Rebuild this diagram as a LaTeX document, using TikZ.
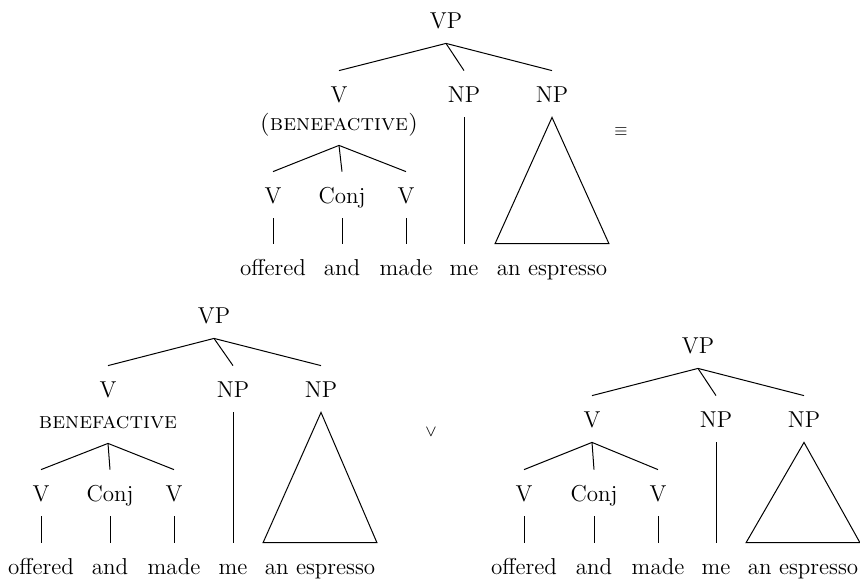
\documentclass[tikz,border=0pt]{standalone}
\usepackage{tikz}

\begin{document}
\begin{tikzpicture}[
    x=0.5pt, y=-0.5pt,
    every node/.style={font=\fontsize{11.5}{14}\selectfont},
    lbl/.style={inner sep=0pt, text height=8pt, text depth=0pt, minimum height=23pt},
    tri/.style={lbl, minimum width=56.5pt},
    sym/.style={inner sep=0pt, font=\footnotesize},
    branch/.style={line width=0.5pt},
  ]
  \useasboundingbox (0,0) rectangle (860,580);

  % top tree
  \node[lbl] (aVP) at (446,20) {VP};
  \node[lbl] (aV) at (339,94) {V};
  \node[lbl] (aBen) at (339,122) {\textsc{(benefactive)}};
  \node[lbl] (aNPa) at (464,94) {NP};
  \node[lbl] (aNPb) at (552,94) {NP};
  \node[lbl] (aVl) at (273,195) {V};
  \node[lbl] (aConj) at (342,195) {Conj};
  \node[lbl] (aVr) at (406,195) {V};
  \node[lbl] (aoff) at (273,267) {offered};
  \node[lbl] (aand) at (342,267) {and};
  \node[lbl] (amade) at (406,267) {made};
  \node[lbl] (ame) at (464,267) {me};
  \node[tri] (aesp) at (552,267) {an espresso};

  \draw[branch] (aVP.south) -- (aV.north);
  \draw[branch] (aVP.south) -- (aNPa.north);
  \draw[branch] (aVP.south) -- (aNPb.north);
  \draw[branch] (aBen.south) -- (aVl.north);
  \draw[branch] (aBen.south) -- (aConj.north);
  \draw[branch] (aBen.south) -- (aVr.north);
  \draw[branch] (aVl.south) -- (aoff.north);
  \draw[branch] (aConj.south) -- (aand.north);
  \draw[branch] (aVr.south) -- (amade.north);
  \draw[branch] (aNPa.south) -- (ame.north);
  \draw[branch] (aNPb.south) -- (aesp.north west) -- (aesp.north east) -- cycle;

  \node[sym] (equiv) at (621,132) {$\equiv$};

  % bottom left tree
  \node[lbl] (bVP) at (214,315) {VP};
  \node[lbl] (bV) at (108,389) {V};
  \node[lbl] (bBen) at (108,420) {\textsc{benefactive}};
  \node[lbl] (bNPa) at (233,389) {NP};
  \node[lbl] (bNPb) at (321,389) {NP};
  \node[lbl] (bVl) at (41,493) {V};
  \node[lbl] (bConj) at (110,493) {Conj};
  \node[lbl] (bVr) at (174,493) {V};
  \node[lbl] (boff) at (41,566) {offered};
  \node[lbl] (band) at (110,566) {and};
  \node[lbl] (bmade) at (174,566) {made};
  \node[lbl] (bme) at (233,566) {me};
  \node[tri] (besp) at (320,566) {an espresso};

  \draw[branch] (bVP.south) -- (bV.north);
  \draw[branch] (bVP.south) -- (bNPa.north);
  \draw[branch] (bVP.south) -- (bNPb.north);
  \draw[branch] (bBen.south) -- (bVl.north);
  \draw[branch] (bBen.south) -- (bConj.north);
  \draw[branch] (bBen.south) -- (bVr.north);
  \draw[branch] (bVl.south) -- (boff.north);
  \draw[branch] (bConj.south) -- (band.north);
  \draw[branch] (bVr.south) -- (bmade.north);
  \draw[branch] (bNPa.south) -- (bme.north);
  \draw[branch] (bNPb.south) -- (besp.north west) -- (besp.north east) -- cycle;

  \node[sym] (vee) at (431,432) {$\vee$};

  % bottom right tree
  \node[lbl] (cVP) at (698,345) {VP};
  \node[lbl] (cV) at (592,419) {V};
  \node[lbl] (cNPa) at (716,419) {NP};
  \node[lbl] (cNPb) at (804,419) {NP};
  \node[lbl] (cVl) at (524,493) {V};
  \node[lbl] (cConj) at (594,493) {Conj};
  \node[lbl] (cVr) at (658,493) {V};
  \node[lbl] (coff) at (524,566) {offered};
  \node[lbl] (cand) at (594,566) {and};
  \node[lbl] (cmade) at (658,566) {made};
  \node[lbl] (cme) at (716,566) {me};
  \node[tri] (cesp) at (803,566) {an espresso};

  \draw[branch] (cVP.south) -- (cV.north);
  \draw[branch] (cVP.south) -- (cNPa.north);
  \draw[branch] (cVP.south) -- (cNPb.north);
  \draw[branch] (cV.south) -- (cVl.north);
  \draw[branch] (cV.south) -- (cConj.north);
  \draw[branch] (cV.south) -- (cVr.north);
  \draw[branch] (cVl.south) -- (coff.north);
  \draw[branch] (cConj.south) -- (cand.north);
  \draw[branch] (cVr.south) -- (cmade.north);
  \draw[branch] (cNPa.south) -- (cme.north);
  \draw[branch] (cNPb.south) -- (cesp.north west) -- (cesp.north east) -- cycle;
\end{tikzpicture}
\end{document}
